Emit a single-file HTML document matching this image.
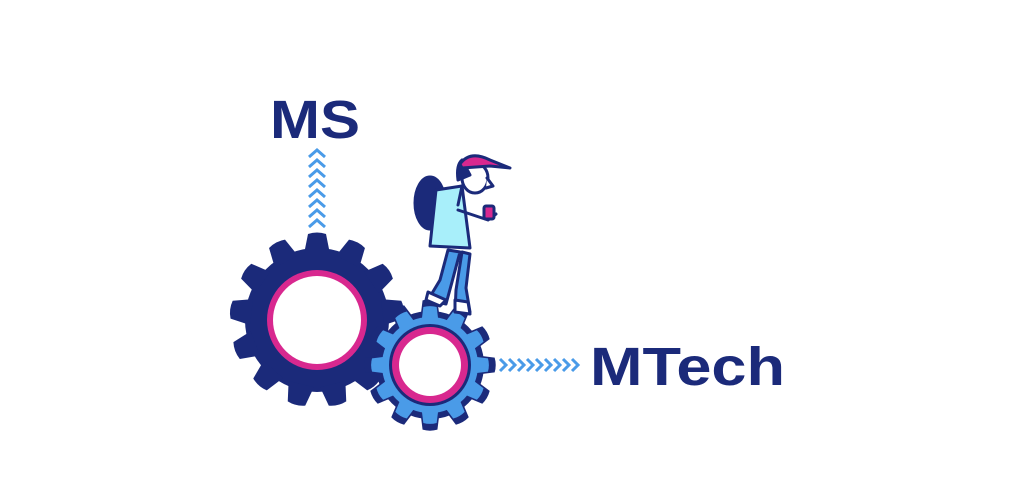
<!DOCTYPE html>
<html><head><style>
html,body{margin:0;padding:0;background:#fff;width:1024px;height:498px;overflow:hidden}
svg{position:absolute;left:0;top:0}
text{font-family:"Liberation Sans",sans-serif;font-weight:bold;fill:#1b2a7a}
</style></head><body>
<svg width="1024" height="498" viewBox="0 0 1024 498">
<defs>
<path id="tb" d="M-13 -66 L-9 -86 Q0 -89 9 -86 L13 -66 Z"/>
<path id="ts" d="M-9 -45 L-7 -61 Q0 -63 7 -61 L9 -45 Z"/>
<path id="chu" d="M-8 5 L0 -2 L8 5" fill="none" stroke="#4a9be8" stroke-width="3"/>
<path id="chr" d="M-3 -6 L3 0 L-3 6" fill="none" stroke="#4a9be8" stroke-width="3"/>
</defs>
<text x="270" y="138" font-size="54" textLength="90" lengthAdjust="spacingAndGlyphs">MS</text>
<text x="590" y="385" font-size="54" textLength="195" lengthAdjust="spacingAndGlyphs">MTech</text>
<g transform="translate(317,0)">
<use href="#chu" y="152"/><use href="#chu" y="162"/><use href="#chu" y="172"/><use href="#chu" y="182"/><use href="#chu" y="192"/><use href="#chu" y="202"/><use href="#chu" y="212"/><use href="#chu" y="222"/>
</g>
<g transform="translate(0,365)">
<use href="#chr" x="503"/><use href="#chr" x="512"/><use href="#chr" x="521"/><use href="#chr" x="530"/><use href="#chr" x="539"/><use href="#chr" x="548"/><use href="#chr" x="557"/><use href="#chr" x="566"/><use href="#chr" x="575"/>
</g>
<!-- big gear -->
<g transform="translate(317,320)" fill="#1b2a7a">
<circle r="72"/>
<use href="#tb"/><use href="#tb" transform="rotate(27.7)"/><use href="#tb" transform="rotate(55.4)"/><use href="#tb" transform="rotate(83.1)"/><use href="#tb" transform="rotate(110.8)"/><use href="#tb" transform="rotate(138.5)"/><use href="#tb" transform="rotate(166.2)"/><use href="#tb" transform="rotate(193.8)"/><use href="#tb" transform="rotate(221.5)"/><use href="#tb" transform="rotate(249.2)"/><use href="#tb" transform="rotate(276.9)"/><use href="#tb" transform="rotate(304.6)"/><use href="#tb" transform="rotate(332.3)"/>
<circle r="50" fill="#d8288f"/><circle r="44" fill="#fff"/>
</g>
<!-- small gear -->
<g transform="translate(430,365)">
<g fill="#1b2a7a" transform="scale(1.06)">
<circle r="51"/>
<use href="#ts"/><use href="#ts" transform="rotate(30)"/><use href="#ts" transform="rotate(60)"/><use href="#ts" transform="rotate(90)"/><use href="#ts" transform="rotate(120)"/><use href="#ts" transform="rotate(150)"/><use href="#ts" transform="rotate(180)"/><use href="#ts" transform="rotate(210)"/><use href="#ts" transform="rotate(240)"/><use href="#ts" transform="rotate(270)"/><use href="#ts" transform="rotate(300)"/><use href="#ts" transform="rotate(330)"/>
</g>
<g fill="#4a9be8">
<circle r="48"/>
<use href="#ts" transform="scale(.95)"/><use href="#ts" transform="rotate(30) scale(.95)"/><use href="#ts" transform="rotate(60) scale(.95)"/><use href="#ts" transform="rotate(90) scale(.95)"/><use href="#ts" transform="rotate(120) scale(.95)"/><use href="#ts" transform="rotate(150) scale(.95)"/><use href="#ts" transform="rotate(180) scale(.95)"/><use href="#ts" transform="rotate(210) scale(.95)"/><use href="#ts" transform="rotate(240) scale(.95)"/><use href="#ts" transform="rotate(270) scale(.95)"/><use href="#ts" transform="rotate(300) scale(.95)"/><use href="#ts" transform="rotate(330) scale(.95)"/>
</g>
<circle r="41" fill="#1b2a7a"/><circle r="38" fill="#d8288f"/><circle r="31" fill="#fff"/>
</g>
<!-- person -->
<g stroke="#1b2a7a" stroke-width="3" stroke-linejoin="round" stroke-linecap="round">
<path d="M448 250 L440 280 L428 300 L446 304 L452 282 L460 252 Z" fill="#4a9be8"/>
<path d="M462 252 L456 290 L455 312 L470 312 L466 288 L470 254 Z" fill="#4a9be8"/>
<path d="M428 292 L446 300 L440 306 L426 300 Z" fill="#fff"/>
<path d="M455 300 L468 302 L470 314 L455 312 Z" fill="#fff"/>
<ellipse cx="430" cy="203" rx="15" ry="26" fill="#1b2a7a"/>
<path d="M436 190 L462 186 L470 248 L430 246 Z" fill="#a8effa"/>
<path d="M458 210 L488 220 L496 214" fill="none"/>
<rect x="484" y="206" width="10" height="13" rx="2" fill="#d8288f"/>
<path d="M462 186 L458 205" fill="none"/>
<ellipse cx="475" cy="178" rx="13" ry="15" fill="#fff"/>
<path d="M487 178 L493 186 L486 188" fill="#fff"/>
<path d="M458 180 Q456 165 462 160 L470 175 Z" fill="#1b2a7a"/>
<path d="M460 164 Q470 150 490 160 L510 168 L490 166 L462 168 Z" fill="#d8288f"/>
</g>
</svg>
</body></html>
